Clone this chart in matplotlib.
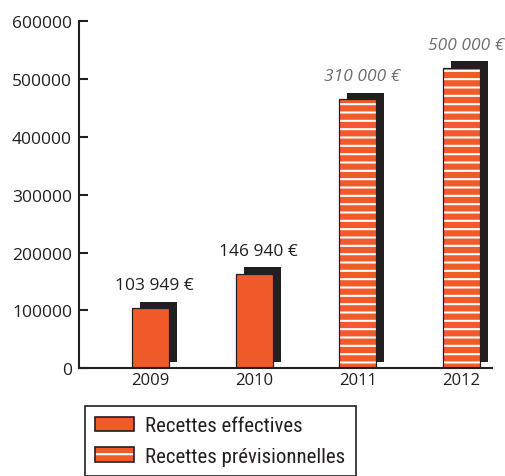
import matplotlib
matplotlib.use('Agg')
import matplotlib.pyplot as plt
from matplotlib.patches import Patch
from matplotlib.legend_handler import HandlerTuple
from matplotlib.ticker import StrMethodFormatter
from matplotlib import font_manager as fm

# ---- data ----
years = ['2009', '2010', '2011', '2012']
bar_values = [104000, 163000, 465000, 519000]
label_texts = ['103 949 €', '146 940 €', '310 000 €', '500 000 €']
is_forecast = [False, False, True, True]
series_names = ['Recettes effectives', 'Recettes prévisionnelles']
y_ticks = [0, 100000, 200000, 300000, 400000, 500000, 600000]

# ---- style ----
ORANGE = '#f15a29'
DARK = '#231f20'
GREY = '#6d6e71'

plt.rcParams['font.family'] = ['Open Sans', 'DejaVu Sans']
plt.rcParams['hatch.linewidth'] = 1.5

W, H = 506, 477
fig = plt.figure(figsize=(W / 100, H / 100), dpi=100)
ax = fig.add_axes([79 / W, 1 - 369.3 / H, (492 - 79) / W, (369.3 - 22.3) / H])

x = list(range(len(years)))
bw = 0.357
dx = 0.077
dy = 11500

ax.bar([xi + dx for xi in x], bar_values, width=bw, bottom=dy, color=DARK,
       linewidth=0, zorder=1)

for xi, v, fc in zip(x, bar_values, is_forecast):
    if fc:
        ax.bar(xi, v, width=bw, facecolor=ORANGE, edgecolor='white', hatch='--',
               linewidth=0, zorder=2)
        ax.bar(xi, v, width=bw, facecolor='none', edgecolor=DARK, linewidth=0.9,
               zorder=3)
    else:
        ax.bar(xi, v, width=bw, facecolor=ORANGE, edgecolor=DARK, linewidth=0.9,
               zorder=2)

for xi, v, t, fc in zip(x, bar_values, label_texts, is_forecast):
    ax.annotate(t, xy=(xi, v), xytext=(3, 16.5), textcoords='offset points',
                ha='center', va='center', fontsize=12.5,
                color=GREY if fc else DARK, style='italic' if fc else 'normal')

ax.set_xlim(-0.69, 3.294)
ax.set_ylim(0, 600000)
ax.set_xticks(x)
ax.set_xticklabels(years)
ax.set_yticks(y_ticks)
ax.yaxis.set_major_formatter(StrMethodFormatter('{x:.0f}'))

for s in ['top', 'right']:
    ax.spines[s].set_visible(False)
for s in ['left', 'bottom']:
    ax.spines[s].set_linewidth(1.5)
    ax.spines[s].set_color(DARK)
    ax.spines[s].set_zorder(4)

ax.tick_params(axis='y', direction='in', length=6.5, width=1.5, pad=5,
               labelsize=12.5, color=DARK, labelcolor=DARK)
ax.tick_params(axis='x', length=0, pad=3, labelsize=12, labelcolor=DARK)

leg_prop = fm.FontProperties(
    family=['Roboto Condensed', 'Archivo Narrow', 'Liberation Sans Narrow', 'DejaVu Sans'],
    size=15, stretch='condensed')

h1 = Patch(facecolor=ORANGE, edgecolor=DARK, linewidth=1.2)
h2a = Patch(facecolor=ORANGE, edgecolor='white', hatch='--', linewidth=0)
h2b = Patch(facecolor='none', edgecolor=DARK, linewidth=1.2)
leg = fig.legend([h1, (h2a, h2b)], series_names,
                 handler_map={tuple: HandlerTuple(ndivide=1)},
                 loc='upper left', bbox_to_anchor=(85 / W, 1 - 407 / H),
                 bbox_transform=fig.transFigure, borderaxespad=0,
                 prop=leg_prop,
                 handlelength=1.85, handleheight=0.68, handletextpad=0.55,
                 borderpad=0.5, labelspacing=0.54, fancybox=False,
                 framealpha=1, edgecolor=DARK, labelcolor=DARK)
leg.get_frame().set_linewidth(1.2)

fig.savefig('out.png', dpi=100)
